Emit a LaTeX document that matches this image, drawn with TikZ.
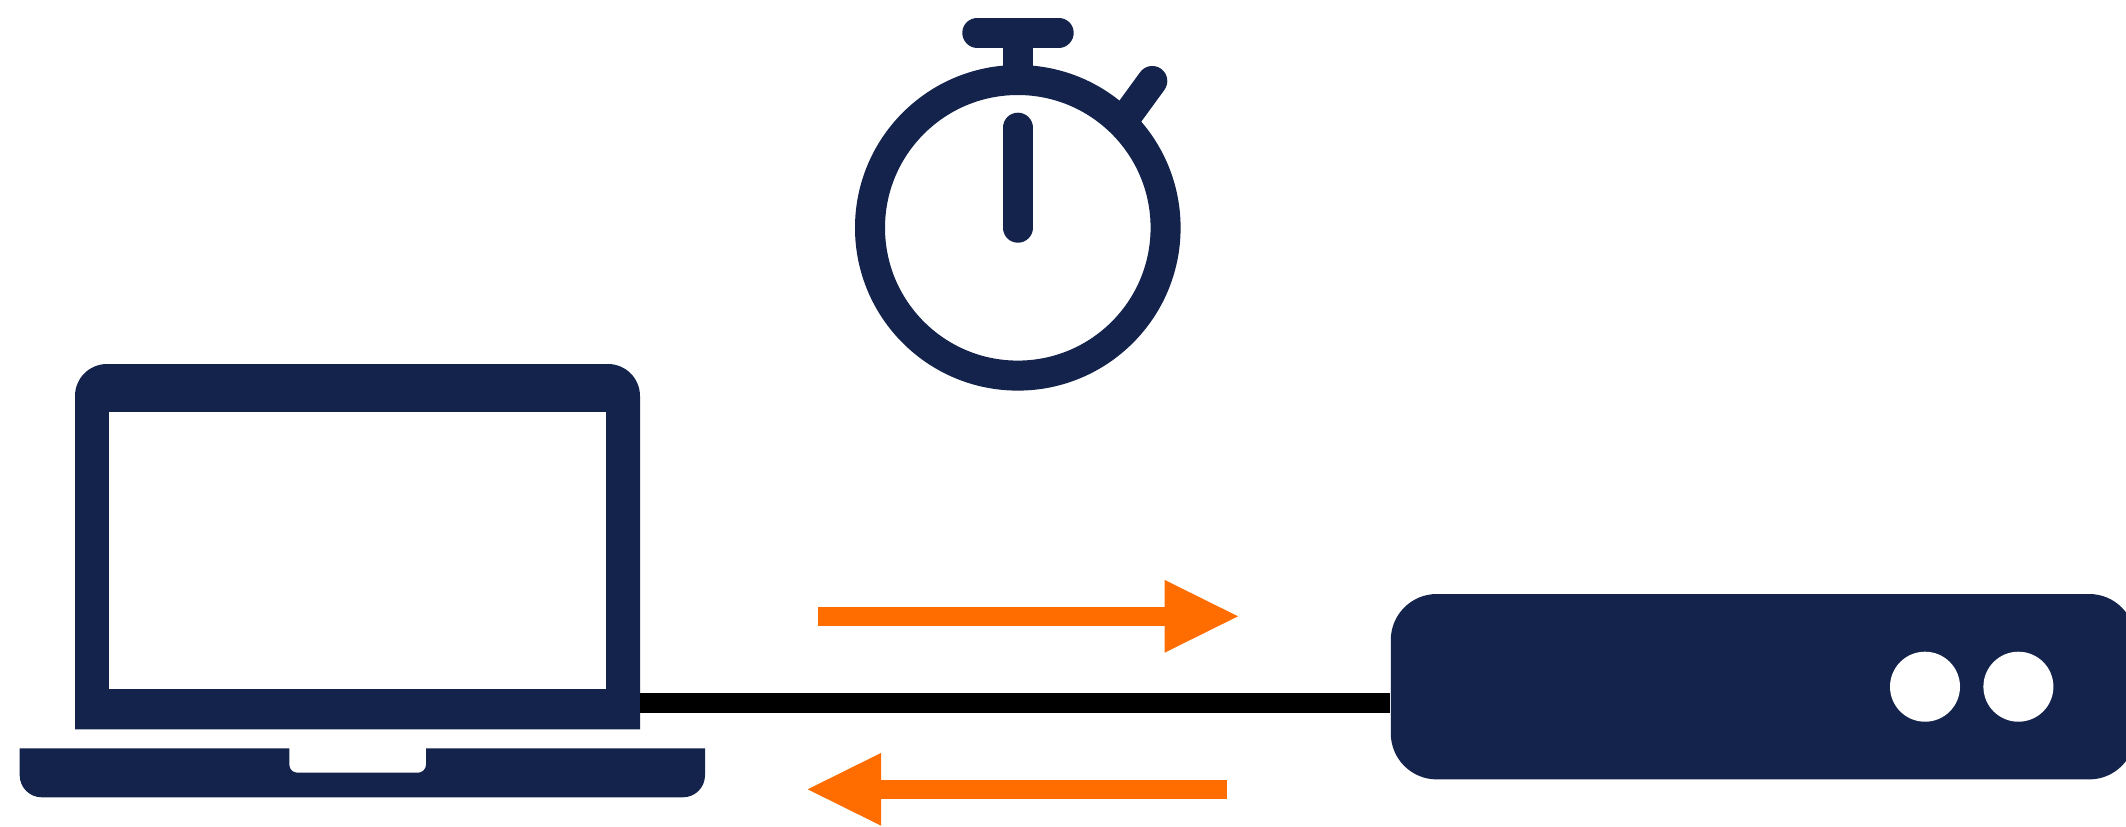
\documentclass[tikz,border=0pt]{standalone}
\usepackage{tikz}
\usetikzlibrary{arrows.meta}
\definecolor{navy}{RGB}{20,35,75}
\definecolor{signal}{RGB}{255,109,0}
\tikzset{
  watchline/.style={draw=navy, line width=0.3cm, line cap=round},
  serverbox/.style={fill=navy, rounded corners=0.46cm, inner sep=0pt, minimum width=7.44cm, minimum height=1.853cm},
  signalarrow/.style={draw=signal, line width=0.187cm, -{Triangle[length=0.733cm, width=0.727cm, line width=0pt]}},
}
\begin{document}
\begin{tikzpicture}[x=0.01cm, y=-0.01cm]
  \useasboundingbox (0,0) rectangle (2126,827);
  \fill[white] (0,0) rectangle (2126,827);
  % stopwatch
  \draw[draw=navy, line width=0.3cm] (1017.8,227.8) circle[radius=147.8];
  \draw[watchline] (977.3,32.7) -- (1058.7,32.7);
  \draw[draw=navy, line width=0.3cm] (1017.8,32.7) -- (1017.8,85);
  \draw[watchline] (1017.8,127.7) -- (1017.8,227.7);
  \draw[watchline] (1152.3,81) -- (1122.8,121.5);
  % cable
  \coordinate (cable) at (0,703);
  \node[serverbox] (server) at (1763,686.7) {};
  \fill[navy] (75,729.3) [rounded corners=0.32cm] -- (75,364) -- (640,364) -- (640,500) [sharp corners] -- (640,729.3) -- cycle;
  \fill[white] (109.3,412.3) rectangle (605.5,689);
  \coordinate (lidedge) at (640,703);
  \draw[black, line width=0.194cm] (lidedge) -- (server.west |- cable);
  % laptop base
  \fill[navy] (19.7,748.3) -- (289.3,748.3) [rounded corners=0.08cm] -- (289.3,772.7) -- (426,772.7) [sharp corners] -- (426,748.3) -- (705,748.3) [rounded corners=0.22cm] -- (705,797.3) -- (19.7,797.3) [sharp corners] -- cycle;
  % server lights
  \foreach \lightx in {1925,2018.4}
    \fill[white] (\lightx,686.7) circle[radius=35];
  % signals
  \coordinate (uptail) at (818.3,616.3);
  \coordinate (uptip) at (1238,616.3);
  \coordinate (downtail) at (1227.3,789.3);
  \coordinate (downtip) at (807.7,789.3);
  \draw[signalarrow] (uptail) -- (uptip);
  \draw[signalarrow] (downtail) -- (downtip);
\end{tikzpicture}
\end{document}
